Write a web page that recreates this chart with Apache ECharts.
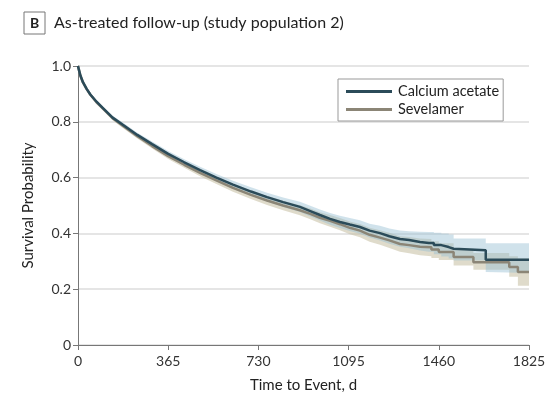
<!DOCTYPE html>
<html><head><meta charset="utf-8">
<script src="https://cdn.jsdelivr.net/npm/echarts@6/dist/echarts.min.js"></script>
<style>html,body{margin:0;padding:0;background:#fff}#c{width:554px;height:406px}</style>
</head><body><div id="c"></div>
<script>
// ---- Data ----
const seriesNames = ['Calcium acetate', 'Sevelamer'];
const xTicks = [0, 365, 730, 1095, 1460, 1825];
const yTicks = [0, 0.2, 0.4, 0.6, 0.8, 1.0];

const caDays = [0,4,10,20,35,50,75,100,140,180,240,300,365,430,494,560,627,700,765,830,898,940,979,1020,1060,1100,1141,1180,1222,1260,1303,1340,1384,1420,1440,1440,1470,1470,1500,1500,1520,1520,1650,1650,1825];
const caSurv = [1.0,0.985,0.965,0.942,0.918,0.898,0.872,0.85,0.815,0.79,0.753,0.72,0.685,0.655,0.627,0.60,0.575,0.55,0.53,0.512,0.495,0.48,0.466,0.452,0.441,0.432,0.423,0.41,0.401,0.39,0.38,0.376,0.369,0.366,0.366,0.358,0.358,0.351,0.351,0.345,0.345,0.340,0.340,0.306,0.306];
const caLo   = [1.0,0.984,0.963,0.939,0.915,0.894,0.867,0.844,0.808,0.782,0.745,0.711,0.675,0.644,0.615,0.587,0.561,0.535,0.514,0.495,0.477,0.461,0.446,0.431,0.419,0.409,0.399,0.385,0.375,0.363,0.352,0.347,0.339,0.334,0.334,0.325,0.325,0.317,0.317,0.310,0.310,0.303,0.303,0.262,0.258];
const caHi   = [1.0,0.986,0.967,0.945,0.921,0.902,0.877,0.856,0.822,0.798,0.761,0.729,0.695,0.666,0.639,0.613,0.589,0.565,0.546,0.529,0.513,0.499,0.486,0.473,0.463,0.455,0.447,0.435,0.427,0.418,0.410,0.408,0.406,0.405,0.405,0.402,0.402,0.400,0.400,0.396,0.396,0.382,0.382,0.365,0.365];

const svDays = [0,4,10,20,35,50,75,100,140,180,240,300,365,430,494,560,627,700,765,830,898,940,979,1020,1060,1100,1141,1180,1222,1260,1303,1340,1384,1430,1430,1460,1460,1520,1520,1600,1600,1745,1745,1780,1780,1825];
const svSurv = [1.0,0.985,0.965,0.941,0.917,0.897,0.870,0.848,0.813,0.787,0.748,0.713,0.677,0.646,0.617,0.59,0.563,0.538,0.518,0.50,0.483,0.47,0.456,0.445,0.433,0.42,0.41,0.395,0.385,0.375,0.362,0.358,0.352,0.350,0.342,0.342,0.333,0.333,0.315,0.315,0.297,0.297,0.28,0.28,0.262,0.262];
const svLo   = [1.0,0.984,0.963,0.938,0.914,0.893,0.865,0.842,0.806,0.779,0.740,0.704,0.667,0.635,0.605,0.577,0.549,0.523,0.502,0.483,0.465,0.451,0.436,0.424,0.411,0.397,0.386,0.370,0.359,0.348,0.334,0.329,0.322,0.318,0.312,0.312,0.305,0.305,0.285,0.285,0.270,0.270,0.245,0.245,0.212,0.212];
const svHi   = [1.0,0.986,0.967,0.944,0.920,0.901,0.875,0.854,0.820,0.795,0.756,0.722,0.687,0.657,0.629,0.603,0.577,0.553,0.534,0.517,0.501,0.489,0.476,0.466,0.455,0.443,0.434,0.420,0.411,0.402,0.390,0.387,0.382,0.380,0.372,0.372,0.365,0.365,0.345,0.345,0.330,0.330,0.318,0.318,0.31,0.31];

// ---- Build option ----
function pairs(xs, ys) { return xs.map((x, i) => [x, ys[i]]); }

const caColor = '#2b4b59';
const svColor = '#8b8576';
const fontFam = 'Lato, "Open Sans", sans-serif';

// confidence band drawn as a polygon through the chart's coordinate system
function bandSeries(days, lo, hi, fill) {
  return {
    type: 'custom', silent: true, z: 1,
    data: [[days[0], lo[0]]],
    encode: {x: 0, y: 1},
    renderItem: function (params, api) {
      const pts = [];
      for (let i = 0; i < days.length; i++) pts.push(api.coord([days[i], hi[i]]));
      for (let i = days.length - 1; i >= 0; i--) pts.push(api.coord([days[i], lo[i]]));
      return {type: 'polygon', shape: {points: pts}, style: {fill: fill, stroke: null}};
    }
  };
}

const chart = echarts.init(document.getElementById('c'), null, {renderer: 'canvas'});
chart.setOption({
  animation: false,
  backgroundColor: '#fff',
  title: {
    left: 19, top: 7,
    text: '{box|B}{t|As-treated follow-up (study population 2)}',
    textStyle: {
      fontWeight: 'normal',
      rich: {
        box: {fontFamily: fontFam, fontSize: 14, fontWeight: 'bold', color: '#222', borderColor: '#777', borderWidth: 1, padding: [4, 6, 4, 6], width: 9, align: 'center'},
        t: {fontFamily: fontFam, fontSize: 16, fontWeight: 'normal', color: '#222', padding: [0, 0, 0, 9]}
      }
    }
  },
  legend: {
    data: seriesNames,
    orient: 'vertical',
    left: 338, top: 79,
    padding: [5, 4, 4, 8],
    itemGap: 3,
    itemWidth: 46, itemHeight: 3,
    borderColor: '#999', borderWidth: 1,
    backgroundColor: '#fff',
    icon: 'rect',
    textStyle: {fontFamily: fontFam, fontSize: 14.5, color: '#222', padding: [0, 0, 0, 1]}
  },
  grid: {left: 78, right: 25, top: 66, bottom: 61, containLabel: false},
  xAxis: {
    type: 'value', min: 0, max: 1825, interval: 365,
    name: 'Time to Event, d', nameLocation: 'middle', nameGap: 33,
    nameTextStyle: {fontFamily: fontFam, fontSize: 15, color: '#222'},
    axisLine: {lineStyle: {color: '#777', width: 1}},
    axisTick: {show: true, length: 5, lineStyle: {color: '#777'}},
    axisLabel: {fontFamily: fontFam, fontSize: 14, color: '#333', margin: 9,
      formatter: v => xTicks.includes(v) ? String(v) : ''},
    splitLine: {show: false}
  },
  yAxis: {
    type: 'value', min: 0, max: 1, interval: 0.2,
    name: 'Survival Probability', nameLocation: 'middle', nameGap: 42,
    nameTextStyle: {fontFamily: fontFam, fontSize: 15, color: '#222'},
    axisLine: {show: true, lineStyle: {color: '#777', width: 1}},
    axisTick: {show: true, length: 5, lineStyle: {color: '#777'}},
    axisLabel: {fontFamily: fontFam, fontSize: 14, color: '#333', margin: 7,
      formatter: v => { const t = yTicks.find(k => Math.abs(k - v) < 1e-9); return t === 0 ? '0' : t.toFixed(1); }},
    splitLine: {show: true, lineStyle: {color: '#dcdcdc', width: 1.5}}
  },
  series: [
    bandSeries(svDays, svLo, svHi, 'rgba(196,190,160,0.55)'),
    bandSeries(caDays, caLo, caHi, 'rgba(150,190,210,0.45)'),
    {type: 'line', name: seriesNames[1], symbol: 'none', data: pairs(svDays, svSurv),
      color: svColor, lineStyle: {color: svColor, width: 2.5}, z: 3},
    {type: 'line', name: seriesNames[0], symbol: 'none', data: pairs(caDays, caSurv),
      color: caColor, lineStyle: {color: caColor, width: 2.5}, z: 4}
  ]
});
</script></body></html>
